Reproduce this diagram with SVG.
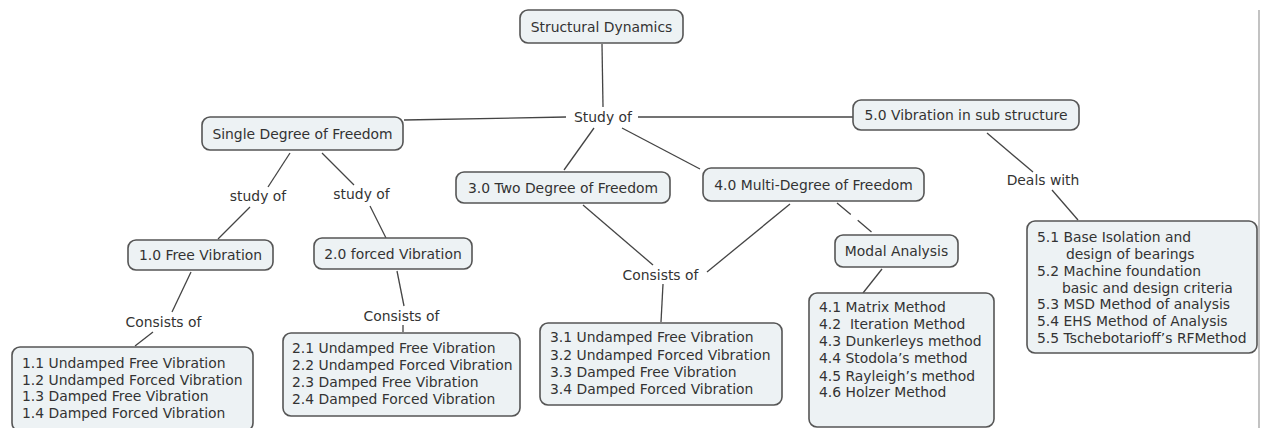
<svg xmlns="http://www.w3.org/2000/svg" width="1261" height="428" viewBox="0 0 1261 428">
<style>
.box{fill:#edf2f4;stroke:#555;stroke-width:1.6}
text{font-family:"DejaVu Sans","Verdana",sans-serif;font-size:13.9px;fill:#333}
.c{text-anchor:middle}
.ln{stroke:#444;stroke-width:1.3;fill:none}
</style>
<rect width="1261" height="428" fill="#fff"/>
<line x1="1259" y1="10" x2="1259" y2="428" stroke="#9a9a9a" stroke-width="1.2"/>
<g id="connectors">
<line class="ln" x1="602" y1="44" x2="603" y2="107"/>
<line class="ln" x1="404" y1="120" x2="566" y2="117"/>
<line class="ln" x1="638" y1="117" x2="853" y2="117"/>
<line class="ln" x1="594" y1="128" x2="564" y2="170"/>
<line class="ln" x1="622" y1="128" x2="700" y2="169"/>
<line class="ln" x1="290" y1="153" x2="268" y2="187"/>
<line class="ln" x1="250" y1="207" x2="218" y2="239"/>
<line class="ln" x1="322" y1="153" x2="354" y2="185"/>
<line class="ln" x1="370" y1="206" x2="386" y2="238"/>
<line class="ln" x1="191" y1="272" x2="172" y2="312"/>
<line class="ln" x1="153" y1="332" x2="135" y2="346"/>
<line class="ln" x1="397" y1="271" x2="404" y2="306"/>
<line class="ln" x1="403" y1="325" x2="403" y2="332"/>
<line class="ln" x1="583" y1="205" x2="653" y2="265"/>
<line class="ln" x1="790" y1="204" x2="707" y2="272"/>
<line class="ln" x1="663" y1="284" x2="661" y2="322"/>
<line class="ln" x1="837" y1="203" x2="874" y2="234" stroke-dasharray="18,9"/>
<line class="ln" x1="882" y1="269" x2="863" y2="293"/>
<line class="ln" x1="987" y1="133" x2="1033" y2="172"/>
<line class="ln" x1="1052" y1="190" x2="1078" y2="220"/>
<text class="c" x="603" y="122">Study of</text>
<text class="c" x="258" y="201">study of</text>
<text class="c" x="361.5" y="199">study of</text>
<text class="c" x="163.5" y="327">Consists of</text>
<text class="c" x="401.5" y="321">Consists of</text>
<text class="c" x="660.5" y="280">Consists of</text>
<text class="c" x="1043" y="185">Deals with</text>
</g>
<g id="structural-dynamics"><rect class="box" x="520" y="10" width="163" height="33" rx="8"/><text class="c" x="601.5" y="31.5">Structural Dynamics</text></g>
<g id="sdof"><rect class="box" x="202" y="117" width="201" height="33" rx="8"/><text class="c" x="302.5" y="138.5">Single Degree of Freedom</text></g>
<g id="n5"><rect class="box" x="853" y="100" width="226" height="30" rx="8"/><text class="c" x="966" y="120">5.0 Vibration in sub structure</text></g>
<g id="n3"><rect class="box" x="456" y="172" width="214" height="31" rx="8"/><text class="c" x="563" y="192.5">3.0 Two Degree of Freedom</text></g>
<g id="n4"><rect class="box" x="703" y="168" width="221" height="33" rx="8"/><text class="c" x="813.5" y="189.5">4.0 Multi-Degree of Freedom</text></g>
<g id="modal"><rect class="box" x="835" y="235" width="123" height="32" rx="8"/><text class="c" x="896.5" y="256">Modal Analysis</text></g>
<g id="n1"><rect class="box" x="128" y="240" width="145" height="30" rx="8"/><text class="c" x="200.5" y="260">1.0 Free Vibration</text></g>
<g id="n2"><rect class="box" x="314" y="238" width="158" height="31" rx="8"/><text class="c" x="393" y="258.5">2.0 forced Vibration</text></g>
<g id="list1"><rect class="box" x="12" y="347" width="241" height="84" rx="8"/>
<text x="22" y="368">1.1 Undamped Free Vibration</text>
<text x="22" y="385">1.2 Undamped Forced Vibration</text>
<text x="22" y="401">1.3 Damped Free Vibration</text>
<text x="22" y="418">1.4 Damped Forced Vibration</text></g>
<g id="list2"><rect class="box" x="283" y="333" width="237" height="83" rx="8"/>
<text x="292" y="353">2.1 Undamped Free Vibration</text>
<text x="292" y="370">2.2 Undamped Forced Vibration</text>
<text x="292" y="387">2.3 Damped Free Vibration</text>
<text x="292" y="404">2.4 Damped Forced Vibration</text></g>
<g id="list3"><rect class="box" x="540" y="323" width="242" height="82" rx="8"/>
<text x="550" y="342">3.1 Undamped Free Vibration</text>
<text x="550" y="360">3.2 Undamped Forced Vibration</text>
<text x="550" y="377">3.3 Damped Free Vibration</text>
<text x="550" y="394">3.4 Damped Forced Vibration</text></g>
<g id="list4"><rect class="box" x="809" y="293" width="185" height="134" rx="8"/>
<text x="819" y="312">4.1 Matrix Method</text>
<text x="819" y="329" xml:space="preserve">4.2  Iteration Method</text>
<text x="819" y="346">4.3 Dunkerleys method</text>
<text x="819" y="363">4.4 Stodola’s method</text>
<text x="819" y="381">4.5 Rayleigh’s method</text>
<text x="819" y="397">4.6 Holzer Method</text></g>
<g id="list5"><rect class="box" x="1027" y="221" width="230" height="132" rx="8"/>
<text x="1037" y="242">5.1 Base Isolation and</text>
<text x="1066" y="259">design of bearings</text>
<text x="1037" y="276">5.2 Machine foundation</text>
<text x="1062" y="293">basic and design criteria</text>
<text x="1037" y="309">5.3 MSD Method of analysis</text>
<text x="1037" y="326">5.4 EHS Method of Analysis</text>
<text x="1037" y="343">5.5 Tschebotarioff’s RFMethod</text></g>
</svg>
